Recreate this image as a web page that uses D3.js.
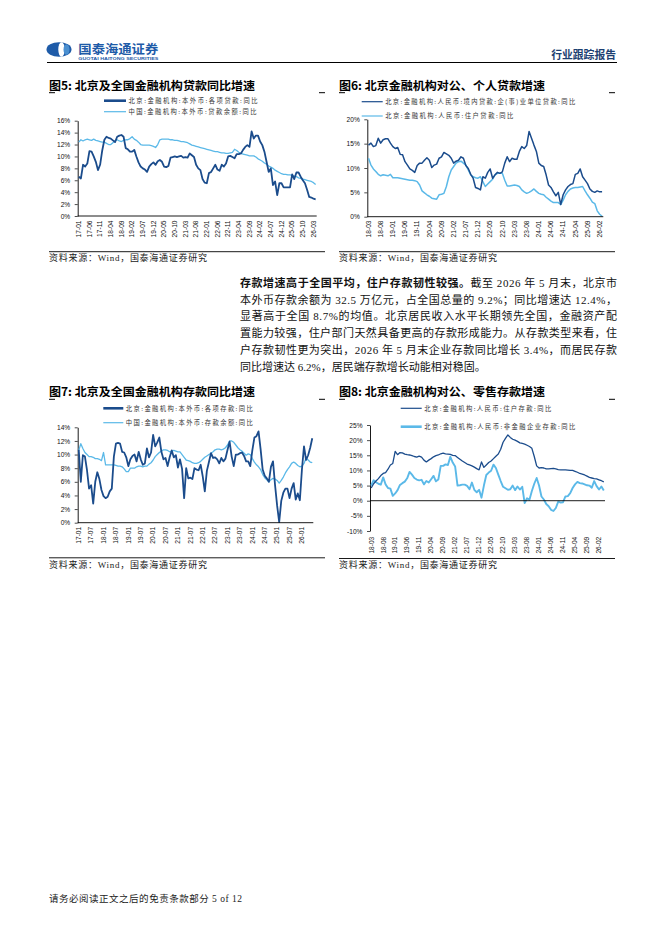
<!DOCTYPE html>
<html>
<head>
<meta charset="utf-8">
<script src="https://cdn.jsdelivr.net/npm/d3@7"></script>
<style>
html, body { margin: 0; padding: 0; background: #fff; }
svg { display: block; }
</style>
</head>
<body>
<div id="page"></div>
<script>
// ---- data (percent, y/y) ----
var beijingLoans = [6.6,6.3,8.6,8.3,8.8,10.9,10.8,10.0,9.1,7.7, 8.6,11.0,12.8,13.3,13.1,13.0,12.7,12.4,13.3,13.5,
  13.6,13.3,11.4,11.2,10.8,10.8,11.1,10.0,9.0,8.3, 8.0,7.8,7.4,8.3,8.7,9.0,8.6,9.2,9.4,9.1,
  8.3,8.2,8.4,9.8,9.9,10.0,9.9,10.0,10.1,9.8, 9.9,9.8,10.5,10.2,9.9,8.6,8.0,7.7,6.2,5.6,
  5.5,7.2,7.4,8.0,8.6,7.8,7.6,8.6,8.3,8.8, 10.0,10.1,9.9,9.7,10.4,10.4,10.5,11.1,11.6,11.9,
  11.6,14.2,13.0,13.5,13.5,12.5,11.9,10.8,9.1,7.4, 8.0,5.2,5.8,3.5,5.5,5.5,4.8,4.8,4.8,4.8,
  7.0,6.2,7.3,7.3,6.6,6.0,5.5,4.4,3.2,3.1, 2.9,2.8];
var chinaLoans = [12.4,12.8,12.6,12.8,12.9,12.8,12.7,12.9,12.7,12.6, 12.5,12.4,12.4,12.2,12.0,12.0,12.3,12.6,12.8,12.6,
  12.5,12.7,12.8,12.8,13.0,13.3,12.9,12.7,12.4,12.0, 11.9,11.9,11.9,11.9,11.8,11.7,11.5,12.0,12.8,12.9,
  12.9,12.9,12.9,12.8,12.8,12.7,12.7,12.6,12.5,12.5, 12.4,12.3,12.1,11.9,11.8,11.7,11.6,11.5,11.4,11.3,
  11.2,11.1,11.0,10.9,10.8,10.8,10.7,10.6,10.6,10.5, 10.5,10.6,10.7,11.2,11.0,10.7,10.5,10.4,10.3,10.2,
  10.1,10.1,10.1,9.9,9.6,9.4,9.2,8.9,8.7,8.4, 8.2,8.0,7.7,7.5,7.3,7.1,7.0,7.0,6.9,6.9,
  6.8,6.7,6.6,6.4,6.3,6.2,6.1,6.0,5.9,5.8, 5.6,5.3];

var corpLoans = [14.7,15.1,14.4,14.6,16.1,15.1,15.8,16.0,16.0,15.1, 14.4,14.0,14.2,12.8,12.7,11.3,10.6,9.8,9.5,9.1,
  10.5,11.0,11.0,11.6,12.1,11.6,10.1,10.6,10.8,12.0, 12.3,13.2,12.9,12.6,12.0,11.0,11.4,11.6,12.3,12.0,
  10.5,9.9,8.7,7.9,6.0,5.8,5.5,8.2,7.9,9.1, 9.8,7.9,8.6,9.1,8.9,9.2,11.0,12.3,11.3,12.0,
  11.8,11.8,13.4,14.4,14.0,14.6,17.5,16.1,14.7,13.4, 11.0,10.5,10.3,8.6,6.5,6.0,5.1,4.3,5.0,2.5,
  4.5,5.5,6.2,6.6,6.8,8.7,8.9,9.8,8.2,7.5, 6.8,5.7,5.2,5.0,5.3,5.1,5.1];
var householdLoans = [12.0,10.6,9.8,9.3,8.7,8.4,8.6,8.5,8.4,8.7, 8.0,8.0,8.0,7.9,7.8,7.7,7.6,7.5,7.5,7.4,
  7.2,6.5,5.3,4.9,4.5,4.2,3.8,3.7,3.6,4.5, 4.6,4.8,6.2,8.2,9.6,10.3,11.0,11.3,11.4,11.0,
  10.6,9.6,8.6,8.2,8.0,7.9,8.2,7.2,6.2,6.7, 7.2,7.7,8.6,8.9,8.9,8.9,7.5,6.3,6.3,6.4,
  6.5,6.4,6.2,5.5,5.1,4.8,5.0,5.3,5.7,5.2, 4.8,4.6,4.5,4.0,3.6,3.2,2.9,2.9,2.9,2.5,
  3.4,4.5,5.2,5.7,5.9,6.0,6.0,6.1,6.2,5.3, 4.5,3.8,3.0,2.7,1.2,0.5,0.1];

var beijingDeposits = [10.7,6.0,9.9,9.7,7.7,5.0,5.5,2.8,6.0,7.4, 6.4,4.8,3.9,3.6,3.8,4.6,5.0,9.7,11.6,11.7,
  11.6,10.4,10.3,9.6,8.3,9.3,9.8,10.0,9.0,10.4, 9.3,8.5,8.7,10.9,9.6,10.3,12.9,11.2,11.8,12.5,
  10.4,9.3,9.5,8.3,9.6,10.6,9.6,9.9,8.1,9.3, 7.9,3.6,8.0,6.5,6.6,6.4,8.0,7.8,7.7,8.5,
  6.8,4.6,7.6,8.9,10.2,9.5,9.6,9.3,8.7,9.5, 9.0,9.4,10.7,11.9,9.7,8.3,10.0,10.0,10.2,10.3,
  9.8,9.0,9.0,8.3,10.6,12.5,12.7,13.4,10.8,7.8, 6.9,6.5,6.0,8.2,9.0,5.5,2.5,0.1,3.2,4.4,
  5.0,5.0,3.6,5.0,5.8,3.4,4.3,3.3,7.8,11.2, 9.2,9.9,11.0,12.4];
var chinaDeposits = [10.6,11.6,10.9,10.3,10.0,9.7,9.7,9.6,9.4,9.4, 9.3,9.1,10.3,8.5,8.5,8.5,8.5,8.5,8.4,8.3,
  8.3,8.2,7.9,7.5,7.5,8.0,8.0,8.0,8.2,8.3, 8.3,8.2,8.3,8.3,8.6,8.8,9.2,9.7,10.0,10.3,
  10.5,10.7,10.7,10.6,10.4,10.5,10.6,10.5,10.4,10.4, 10.0,9.6,9.2,9.1,9.0,8.8,8.7,8.7,8.8,9.0,
  9.3,9.6,9.8,10.0,10.2,10.4,10.7,10.8,10.8,10.7, 10.8,11.0,11.4,12.0,12.0,11.8,11.4,11.0,10.7,10.5,
  10.2,9.9,10.1,10.0,9.4,8.9,8.5,8.2,7.8,7.1, 6.6,6.3,6.0,6.3,6.5,6.4,6.2,5.8,6.2,6.7,
  7.3,7.8,8.2,8.7,8.9,8.7,8.4,8.2,8.3,8.7, 9.5,9.2,8.9,8.8];

var householdDeposits = [4.2,5.6,6.5,7.3,8.3,9.0,9.3,10.4,11.8,12.3, 16.3,15.2,15.9,15.8,15.4,15.2,15.1,14.9,14.6,14.4,
  14.7,14.4,13.4,12.8,13.4,13.9,14.5,14.9,15.1,15.5, 15.7,15.5,15.4,15.3,15.0,14.9,14.3,13.7,13.1,12.6,
  12.1,11.8,11.5,11.1,10.6,10.2,12.8,11.0,11.8,12.6, 13.1,13.9,14.7,15.4,17.0,19.3,20.6,21.7,20.9,20.3,
  20.0,19.6,19.1,18.9,18.7,18.3,17.9,17.3,14.6,11.5, 10.8,10.9,10.8,10.5,10.5,10.6,10.7,10.5,10.3,10.2,
  10.2,10.2,10.1,10.0,10.0,9.7,9.4,9.0,8.8,8.5, 8.1,7.7,7.5,7.3,7.2,6.9,6.6,6.2];
var corpDeposits = [5.0,6.8,6.1,5.6,5.3,7.7,5.4,4.2,4.0,1.6, 2.4,3.5,5.2,5.8,6.3,7.4,9.5,8.6,7.5,7.0,
  6.7,6.9,5.4,6.5,6.0,7.1,8.2,6.4,7.0,11.5, 11.5,12.0,11.8,14.5,12.6,11.3,5.0,5.1,5.3,5.3,
  4.9,3.8,6.0,3.6,2.8,3.6,1.0,5.0,8.5,9.3, 9.9,11.9,10.8,8.6,6.5,4.6,4.1,3.6,3.8,5.0,
  3.5,4.7,3.7,4.6,-0.8,0.8,0.3,3.2,5.6,7.5, 5.0,1.4,0.4,-1.1,-1.8,-3.0,-3.4,-2.4,-0.3,-0.6,
  -0.5,1.4,1.5,2.5,4.2,5.4,6.2,5.8,5.7,5.4, 5.1,5.0,4.3,6.5,4.8,3.7,4.7,3.4];

// tick labels
var ticks5 = ["17-01","17-06","17-11","18-04","18-09","19-02","19-07","19-12","20-05","20-10","21-03","21-08",
  "22-01","22-06","22-11","23-04","23-09","24-02","24-07","24-12","25-05","25-10","26-03"];
var ticks6 = ["18-03","18-08","19-01","19-06","19-11","20-04","20-09","21-02","21-07","21-12","22-05","22-10",
  "23-03","23-08","24-01","24-06","24-11","25-04","25-09","26-02"];
var ticks7 = ["17-01","17-07","18-01","18-07","19-01","19-07","20-01","20-07","21-01","21-07","22-01","22-07",
  "23-01","23-07","24-01","24-07","25-01","25-07","26-01"];
var ticks8 = ticks6;

var paraLines = [
  [["存款增速高于全国平均，住户存款韧性较强。", true], ["截至 2026 年 5 月末，北京市", false]],
  [["本外币存款余额为 32.5 万亿元，占全国总量的 9.2%；同比增速达 12.4%，", false]],
  [["显著高于全国 8.7%的均值。北京居民收入水平长期领先全国，金融资产配", false]],
  [["置能力较强，住户部门天然具备更高的存款形成能力。从存款类型来看，住", false]],
  [["户存款韧性更为突出，2026 年 5 月末企业存款同比增长 3.4%，而居民存款", false]],
  [["同比增速达 6.2%，居民端存款增长动能相对稳固。", false]]
];

var DARK = "#1B4C8C", LIGHT = "#5BB9E8";
var CJK = "'Noto Sans CJK SC', sans-serif";
var SANS = "'Liberation Sans', Arial, sans-serif";
var SERIF = "'Liberation Serif', 'Noto Sans CJK SC', serif";

// build "YY-MM" category keys
function monthRange(start, n) {
  var yy = +start.slice(0, 2), mm = +start.slice(3, 5), out = [];
  for (var k = 0; k < n; k++) {
    out.push((yy < 10 ? "0" : "") + yy + "-" + (mm < 10 ? "0" : "") + mm);
    mm++;
    if (mm > 12) { mm = 1; yy++; }
  }
  return out;
}

var svg = d3.select("#page").append("svg")
  .attr("width", 662).attr("height", 936)
  .attr("viewBox", "0 0 662 936");

// ---- page header ----
var head = svg.append("g");
head.append("ellipse").attr("cx", 59).attr("cy", 49.5).attr("rx", 12.5).attr("ry", 7.3).attr("fill", "#1E5BA8");
head.append("ellipse").attr("cx", 61.5).attr("cy", 49.5).attr("rx", 3.2).attr("ry", 7.3).attr("fill", "#fff");
head.append("ellipse").attr("cx", 66.5).attr("cy", 49.5).attr("rx", 3).attr("ry", 5.2).attr("fill", "#4A8FD0");
head.append("text").attr("x", 78.3).attr("y", 53.8)
  .attr("font-family", CJK).attr("font-weight", "bold").attr("font-size", 12.5)
  .attr("fill", "#1E5BA8").attr("textLength", 80).attr("lengthAdjust", "spacingAndGlyphs")
  .text("国泰海通证券");
head.append("text").attr("x", 78.3).attr("y", 59.6)
  .attr("font-family", SANS).attr("font-weight", "bold").attr("font-size", 3.3)
  .attr("fill", "#1E5BA8").attr("textLength", 80).attr("lengthAdjust", "spacingAndGlyphs")
  .text("GUOTAI HAITONG SECURITIES");
head.append("text").attr("x", 616).attr("y", 58.8).attr("text-anchor", "end")
  .attr("font-family", CJK).attr("font-weight", "bold").attr("font-size", 10.8)
  .attr("fill", "#1D3F72").text("行业跟踪报告");
head.append("line").attr("x1", 47).attr("x2", 617).attr("y1", 62.5).attr("y2", 62.5)
  .attr("stroke", "#000").attr("stroke-width", 1);

// ---- charts ----
var charts = [
  { title: "图5:  北京及全国金融机构贷款同比增速", left: 49, right: 325, titleY: 90, dashY: 92.7,
    srcLineY: 251.7, srcY: 261.3,
    x0: 77.7, x1: 316.7, yTop: 120.7, yBot: 216, domain: [0, 16], yTicks: d3.range(0, 17, 2),
    cats: monthRange("17-01", beijingLoans.length), xTicks: ticks5, labelTop: 220.5, axisAt: 0,
    legX: [104, 126], legY: [100.7, 111.7],
    series: [
      { name: "北京:金融机构:本外币:各项贷款:同比", values: beijingLoans, color: DARK, width: 1.8, legW: 2.6, tl: 129, z: 1 },
      { name: "中国:金融机构:本外币:贷款余额:同比", values: chinaLoans, color: LIGHT, width: 1.3, legW: 1.2, tl: 128, z: 0 }
    ] },
  { title: "图6:  北京金融机构对公、个人贷款增速", left: 339, right: 615, titleY: 90, dashY: 92.7,
    srcLineY: 251.7, srcY: 261.3,
    x0: 367.3, x1: 603.3, yTop: 119.3, yBot: 216.7, domain: [0, 20], yTicks: d3.range(0, 21, 5),
    cats: monthRange("18-03", corpLoans.length), xTicks: ticks6, labelTop: 220.5, axisAt: 0,
    legX: [361.7, 382.7], legY: [101.7, 116],
    series: [
      { name: "北京:金融机构:人民币:境内贷款:企(事)业单位贷款:同比", values: corpLoans, color: DARK, width: 1.5, legW: 1.2, tl: 190, z: 1 },
      { name: "北京:金融机构:人民币:住户贷款:同比", values: householdLoans, color: LIGHT, width: 1.5, legW: 1.2, tl: 128, z: 0 }
    ] },
  { title: "图7:  北京及全国金融机构存款同比增速", left: 49, right: 325, titleY: 396, dashY: 399.3,
    srcLineY: 557.8, srcY: 568.3,
    x0: 77.7, x1: 313.3, yTop: 427.3, yBot: 522.7, domain: [0, 14], yTicks: d3.range(0, 15, 2),
    cats: monthRange("17-01", beijingDeposits.length), xTicks: ticks7, labelTop: 526.8, axisAt: 0,
    legX: [103.3, 123.3], legY: [408.3, 422.7],
    series: [
      { name: "北京:金融机构:本外币:各项存款:同比", values: beijingDeposits, color: DARK, width: 1.8, legW: 2.6, tl: 127, z: 1 },
      { name: "中国:金融机构:本外币:存款余额:同比", values: chinaDeposits, color: LIGHT, width: 1.3, legW: 1.2, tl: 127, z: 0 }
    ] },
  { title: "图8:  北京金融机构对公、零售存款增速", left: 339, right: 615, titleY: 396, dashY: 399.3,
    srcLineY: 558.5, srcY: 568.3,
    x0: 370, x1: 605, yTop: 425, yBot: 531, domain: [-10, 25], yTicks: d3.range(-10, 26, 5),
    cats: monthRange("18-03", householdDeposits.length), xTicks: ticks8, labelTop: 536.7, axisAt: 0,
    legX: [400.7, 421.7], legY: [408.3, 426.7],
    series: [
      { name: "北京:金融机构:人民币:住户存款:同比", values: householdDeposits, color: DARK, width: 1.3, legW: 1.2, tl: 127, z: 1 },
      { name: "北京:金融机构:人民币:非金融企业存款:同比", values: corpDeposits, color: LIGHT, width: 1.9, legW: 2.6, tl: 151, z: 0 }
    ] }
];

charts.forEach(drawChart);

function drawChart(c) {
  var g = svg.append("g");

  // title with the little end marks under it
  g.append("text").attr("x", c.left).attr("y", c.titleY)
    .attr("font-family", CJK).attr("font-weight", "bold").attr("font-size", 11.5)
    .attr("fill", "#000").attr("textLength", 206).attr("lengthAdjust", "spacingAndGlyphs")
    .text(c.title);
  [[c.left, c.left + 6], [c.right - 6, c.right]].forEach(function (s) {
    g.append("line").attr("x1", s[0]).attr("x2", s[1]).attr("y1", c.dashY).attr("y2", c.dashY)
      .attr("stroke", "#000").attr("stroke-width", 1);
  });

  // legend
  c.series.forEach(function (s, k) {
    g.append("line").attr("x1", c.legX[0]).attr("x2", c.legX[1])
      .attr("y1", c.legY[k]).attr("y2", c.legY[k])
      .attr("stroke", s.color).attr("stroke-width", s.legW);
    g.append("text").attr("x", c.legX[1] + 2.5).attr("y", c.legY[k] + 2.3)
      .attr("font-family", CJK).attr("font-size", 6.3).attr("fill", "#333")
      .attr("textLength", s.tl).attr("lengthAdjust", "spacing")
      .text(s.name);
  });

  var x = d3.scalePoint().domain(c.cats).range([c.x0, c.x1]).padding(0.5);
  var y = d3.scaleLinear().domain(c.domain).range([c.yBot, c.yTop]);

  // y axis
  var yAxis = g.append("g").attr("transform", "translate(" + c.x0 + ",0)")
    .call(d3.axisLeft(y).tickValues(c.yTicks).tickSize(3).tickSizeOuter(0).tickPadding(4.5)
      .tickFormat(function (d) { return d + "%"; }));
  yAxis.select(".domain").attr("stroke", "#000").attr("stroke-width", 0.9);
  yAxis.selectAll(".tick line").attr("stroke", "#000").attr("stroke-width", 0.7);
  yAxis.selectAll(".tick text").attr("font-family", SANS).attr("font-size", 6.6).attr("fill", "#111");

  // series
  var line = d3.line()
    .x(function (d, i) { return x(c.cats[i]); })
    .y(function (d) { return y(d); });
  c.series.slice().sort(function (a, b) { return a.z - b.z; }).forEach(function (s) {
    g.append("path").datum(s.values)
      .attr("d", line)
      .attr("fill", "none")
      .attr("stroke", s.color)
      .attr("stroke-width", s.width)
      .attr("stroke-linejoin", "round");
  });

  // x axis line (at zero) and rotated month labels
  g.append("line").attr("x1", c.x0).attr("x2", c.x1)
    .attr("y1", y(c.axisAt)).attr("y2", y(c.axisAt))
    .attr("stroke", "#000").attr("stroke-width", 0.9);
  g.selectAll(".xlab").data(c.xTicks).enter().append("text")
    .attr("class", "xlab")
    .attr("transform", function (d) { return "translate(" + x(d) + "," + c.labelTop + ") rotate(-90)"; })
    .attr("text-anchor", "end").attr("dy", "0.35em")
    .attr("font-family", SANS).attr("font-size", 6.6).attr("fill", "#111")
    .text(function (d) { return d; });

  // source
  g.append("line").attr("x1", c.left).attr("x2", c.right).attr("y1", c.srcLineY).attr("y2", c.srcLineY)
    .attr("stroke", "#000").attr("stroke-width", 0.9);
  g.append("text").attr("x", c.left).attr("y", c.srcY)
    .attr("font-family", SERIF).attr("font-size", 9).attr("fill", "#222")
    .attr("textLength", 158).attr("lengthAdjust", "spacing")
    .text("资料来源：Wind，国泰海通证券研究");
}

// ---- body paragraph ----
var para = svg.append("g");
paraLines.forEach(function (parts, k) {
  var t = para.append("text").attr("x", 240).attr("y", 287 + k * 16.7)
    .attr("font-family", SERIF).attr("font-size", 11).attr("fill", "#111");
  if (k < paraLines.length - 1) t.attr("textLength", 377).attr("lengthAdjust", "spacing");
  parts.forEach(function (p) {
    t.append("tspan").attr("font-weight", p[1] ? "bold" : "normal")
      .attr("font-family", p[1] ? CJK : SERIF).text(p[0]);
  });
});

// ---- footer ----
svg.append("text").attr("x", 49).attr("y", 901.5)
  .attr("font-family", SERIF).attr("font-size", 9.5).attr("fill", "#222")
  .attr("textLength", 193).attr("lengthAdjust", "spacing")
  .text("请务必阅读正文之后的免责条款部分 5 of 12");
</script>
</body>
</html>
